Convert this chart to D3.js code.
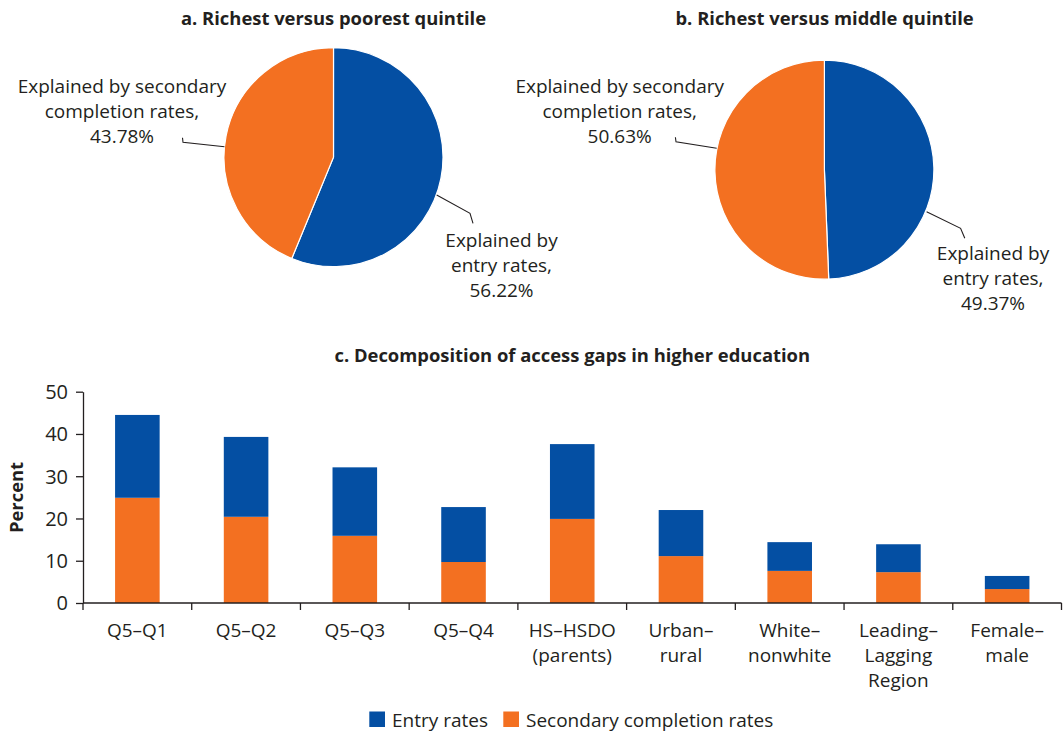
<!DOCTYPE html>
<html><head><meta charset="utf-8">
<script src="https://cdn.jsdelivr.net/npm/d3@7"></script>
<style>
body{margin:0;background:#fff}
text{font-family:"Open Sans",sans-serif;fill:#231f20}
</style>
</head><body>
<svg id="chart" width="1064" height="734"></svg>
<script>
// ---------- data ----------
const categories = ["Q5–Q1","Q5–Q2","Q5–Q3","Q5–Q4","HS–HSDO (parents)","Urban–rural","White–nonwhite","Leading–Lagging Region","Female–male"];
const categoryLabelLines = [["Q5–Q1"],["Q5–Q2"],["Q5–Q3"],["Q5–Q4"],["HS–HSDO","(parents)"],["Urban–","rural"],["White–","nonwhite"],["Leading–","Lagging","Region"],["Female–","male"]];
const secondaryCompletion = [24.9,20.4,15.9,9.7,19.9,11.1,7.6,7.3,3.3];
const entryRates = [19.6,18.9,16.2,13.0,17.7,10.9,6.8,6.6,3.1];
const yTicks = [0,10,20,30,40,50];
const seriesNames = ["Entry rates","Secondary completion rates"];
const pieTitles = ["a. Richest versus poorest quintile","b. Richest versus middle quintile"];
const pieEntryShares = [56.22,49.37];
const pieSecondaryShares = [43.78,50.63];
const barTitle = "c. Decomposition of access gaps in higher education";
const yAxisTitle = "Percent";

const BLUE = "#044fa3", ORANGE = "#f37021", INK = "#231f20";
const svg = d3.select("#chart");
const FS = 19, FSB = 18.4;

// ---------- pies ----------
const pieLayouts = [
  {cx:333.5, cy:157.2, titleX:333.5,
   secText:{x:122, y:93}, secLeader:[[182.5,137.8],[183,142.3],[224.5,146.7]],
   entText:{x:501.5, y:246.7}, entLeader:[[436.7,195],[470,213.3],[473,223.3]]},
  {cx:824.4, cy:169.7, titleX:824.6,
   secText:{x:619.7, y:93}, secLeader:[[675.4,137.3],[676,141.7],[716.7,148.3]],
   entText:{x:993, y:260}, entLeader:[[926.6,211.7],[960.6,228.3],[964.8,238.3]]}
];
const R = 109.5;
const pie = d3.pie().sort(null).value(d => d.v);
const arc = d3.arc().innerRadius(0).outerRadius(R);
const line = d3.line();

pieTitles.forEach((t, i) => {
  const L = pieLayouts[i];
  svg.append("text").attr("x", L.titleX).attr("y", 25).attr("text-anchor","middle")
    .attr("font-weight","bold").attr("font-size", FSB).text(t);
  const g = svg.append("g").attr("transform", `translate(${L.cx},${L.cy})`);
  const data = [{k:"entry", v:pieEntryShares[i]},{k:"sec", v:pieSecondaryShares[i]}];
  g.selectAll("path").data(pie(data)).join("path")
    .attr("d", arc).attr("fill", d => d.data.k === "entry" ? BLUE : ORANGE)
    .attr("stroke","#fff").attr("stroke-width",1.2);

  [L.secLeader, L.entLeader].forEach(pts => {
    svg.append("path").attr("d", line(pts)).attr("fill","none").attr("stroke", INK).attr("stroke-width",1.1);
  });
  const secLines = ["Explained by secondary","completion rates,", pieSecondaryShares[i].toFixed(2)+"%"];
  const entLines = ["Explained by","entry rates,", pieEntryShares[i].toFixed(2)+"%"];
  [[secLines, L.secText],[entLines, L.entText]].forEach(([lines, p]) => {
    const tx = svg.append("text").attr("text-anchor","middle").attr("font-size", FS);
    lines.forEach((s, j) => tx.append("tspan").attr("x", p.x).attr("y", p.y + j*25).text(s));
  });
});

// ---------- bars ----------
const margin = {left:83, right:1061.5, top:391.7, bottom:603};
const x = d3.scaleBand().domain(categories).range([margin.left, margin.right])
  .paddingInner(0.59).paddingOuter(0.295);
const y = d3.scaleLinear().domain([0,50]).range([margin.bottom, margin.top]);

svg.append("text").attr("x",(margin.left+margin.right)/2).attr("y",362).attr("text-anchor","middle")
  .attr("font-weight","bold").attr("font-size",FSB).text(barTitle);

const rows = categories.map((c,i) => ({c, sec:secondaryCompletion[i], ent:entryRates[i]}));
const stack = d3.stack().keys(["sec","ent"])(rows);
const colors = {sec:ORANGE, ent:BLUE};
svg.append("g").selectAll("g").data(stack).join("g").attr("fill", d => colors[d.key])
  .selectAll("rect").data(d => d).join("rect")
  .attr("x", d => x(d.data.c)).attr("width", x.bandwidth())
  .attr("y", d => y(d[1])).attr("height", d => y(d[0]) - y(d[1]));

// y axis
const yAxis = svg.append("g").attr("transform",`translate(${margin.left},0)`)
  .call(d3.axisLeft(y).tickValues(yTicks).tickSize(7).tickSizeOuter(0).tickPadding(8));
yAxis.select(".domain").attr("stroke",INK).attr("stroke-width",1.3);
yAxis.selectAll(".tick line").attr("stroke",INK).attr("stroke-width",1.3);
yAxis.selectAll(".tick text").attr("font-size",FS+1).attr("font-family","'Open Sans',sans-serif").attr("fill",INK).attr("dy","0.34em");

svg.append("text").attr("transform",`translate(23,497.5) rotate(-90)`).attr("text-anchor","middle")
  .attr("font-weight","bold").attr("font-size",FSB).text(yAxisTitle);

// x axis
const xg = svg.append("g");
xg.append("line").attr("x1",margin.left).attr("x2",margin.right).attr("y1",margin.bottom).attr("y2",margin.bottom)
  .attr("stroke",INK).attr("stroke-width",1.3);
const bounds = categories.map(c => x(c) - x.step()*x.paddingInner()/2).concat([margin.right]);
xg.selectAll("line.tk").data(bounds).join("line").attr("class","tk")
  .attr("x1",d=>d).attr("x2",d=>d).attr("y1",margin.bottom).attr("y2",margin.bottom+7)
  .attr("stroke",INK).attr("stroke-width",1.3);
categories.forEach((c,i) => {
  const tx = xg.append("text").attr("text-anchor","middle").attr("font-size",FS);
  categoryLabelLines[i].forEach((s,j) => tx.append("tspan")
    .attr("x", x(c)+x.bandwidth()/2).attr("y", 636.7 + j*25.3).text(s));
});

// legend
const legend = svg.append("g");
const legendX = [369.3, 503.3];
seriesNames.forEach((n,i) => {
  legend.append("rect").attr("x",legendX[i]).attr("y",711.5).attr("width",15.7).attr("height",15.5)
    .attr("fill", i===0 ? BLUE : ORANGE);
  legend.append("text").attr("x",legendX[i]+22.7).attr("y",726.5).attr("font-size",FS).text(n);
});
</script>
</body></html>
